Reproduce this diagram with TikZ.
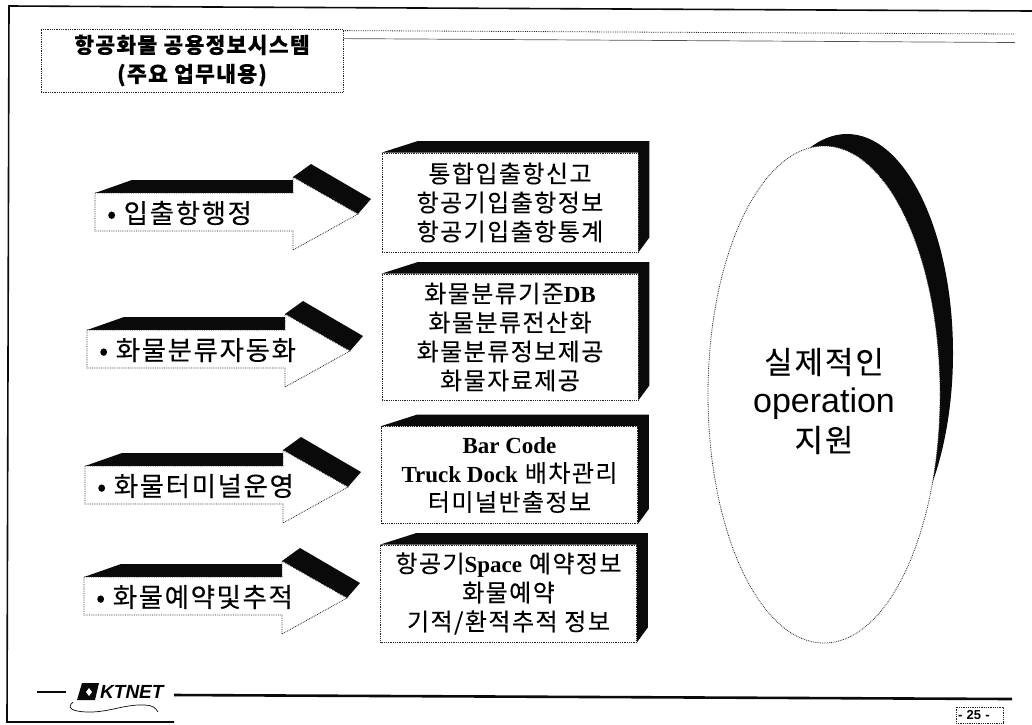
\documentclass[tikz,border=0pt]{standalone}
\usepackage{fontspec}
\setmainfont{Noto Sans CJK KR}[LetterSpace=6,FakeBold=0.15]
\newfontfamily\serfont{Liberation Serif}
\newfontfamily\helvfont{Liberation Sans}
\newcommand{\lat}[1]{{\serfont\bfseries\fontsize{23}{29}\selectfont #1}}
\usetikzlibrary{shapes.geometric,positioning}
\definecolor{inkcolor}{RGB}{10, 10, 10}

\begin{document}
\begin{tikzpicture}[
    x=1pt, y=-1pt,
    dotline/.style={densely dotted, line width=0.8pt, draw=inkcolor!90},
    rule/.style={draw=inkcolor, line width=#1},
    infobox/.style={rectangle, dotline, fill=white, inner sep=0pt, align=center, font=\fontsize{24}{29}\selectfont},
    arrowtext/.style={anchor=west, inner sep=0pt, font=\fontsize{26.5}{29}\selectfont},
    oval/.style={ellipse, inner sep=0pt}
]
    \useasboundingbox (0,0) rectangle (1032,724);

    % Page frame
    \draw[rule=1.6pt] (1032,11) -- (9,6) -- (7,722) -- (174,722);

    % Title
    \node[rectangle, dotline, minimum width=302pt, minimum height=63pt, inner sep=0pt, align=center,
        font=\bfseries\fontsize{21.5}{29}\selectfont] (title) at (192,60.5) {항공화물 공용정보시스템\\(주요 업무내용)};
    \draw[dotline] (title.north east) ++(0,2) -- (1015,34);
    \draw[draw=inkcolor!70, line width=0.7pt] (title.north east) ++(0,10) -- (1015,42.5);

    % Left arrows
    \foreach \n/\lx/\ty/\txt in {1/95/193/입출항행정, 2/87/330/화물분류자동화, 3/85/466/화물터미널운영, 4/84/577/화물예약및추적} {
        \begin{scope}[shift={(\lx,\ty)}]
            \fill[inkcolor] (0,0) -- (37,-13) -- (198,-13) -- (198,0) -- cycle;
            \fill[inkcolor] (198,-16) -- (216,-29) -- (276,6) -- (263,21) -- cycle;
            \draw[dotline, fill=white] (0,0) -- (198,0) -- (198,-16) -- (263,21) -- (198,57) -- (198,38) -- (0,38) -- cycle;
            \node[arrowtext] (arrow\n) at (12,20) {• \txt};
        \end{scope}
    }

    % Middle boxes
    \foreach \n/\cx/\cy/\w/\h/\txt in {
        1/510/202.5/256/99/{통합입출항신고\\항공기입출항정보\\항공기입출항통계},
        2/510/337/256/126/{화물분류기준\lat{DB}\\화물분류전산화\\화물분류정보제공\\화물자료제공},
        3/509.5/475/256/97/{\lat{Bar Code}\\\lat{Truck Dock} 배차관리\\터미널반출정보},
        4/508.5/593.5/256/97/{항공기\lat{Space} 예약정보\\화물예약\\기적/환적추적 정보}} {
        \node[infobox, minimum width=\w pt, minimum height=\h pt] (box\n) at (\cx,\cy) {\txt};
        \fill[inkcolor] (box\n.north west) -- ++(36,-11.5) -- ([shift={(11,-11.5)}]box\n.north east)
            -- ([shift={(11,-15)}]box\n.south east) -- (box\n.south east) -- (box\n.north east) -- cycle;
    }

    % Right oval
    \node[oval, fill=inkcolor, minimum width=212pt, minimum height=438pt] (opshadow) at (847,353) {};
    \node[oval, dotline, fill=white, minimum width=232pt, minimum height=497pt] (op) at (824,394.5) {};
    \node[inner sep=0pt, align=center, font=\fontsize{31}{39}\selectfont] (oplabel) at (824,401)
        {실제적인\\{\helvfont\fontsize{34}{39}\selectfont operation}\\지원};

    % Footer
    \draw[rule=2.6pt] (37,692) -- (66,692);
    \draw[rule=2.6pt] (174,695) -- (1012,699);
    \fill[inkcolor] (77,700) -- (82,683) -- (99,683) -- (95,700) -- cycle;
    \fill[white] (86,692) -- (89,688) -- (92,692) -- (89,696) -- cycle;
    \node[anchor=west, inner sep=0pt, font=\helvfont\bfseries\itshape\fontsize{19}{19}\selectfont] (logo) at (100,692) {KTNET};
    \draw[inkcolor, line width=0.7pt] (73,702) .. controls (66,708) and (72,712) .. (90,712)
        .. controls (110,712) and (125,704) .. (145,705) .. controls (152,705) and (156,708) .. (158,712);
    \node[rectangle, dotline, minimum height=16pt, text width=43pt, align=left, inner xsep=2pt, inner ysep=0pt,
        font=\helvfont\bfseries\fontsize{13}{13}\selectfont] (pagenum) at (979.5,715) {- 25 -};
\end{tikzpicture}
\end{document}
